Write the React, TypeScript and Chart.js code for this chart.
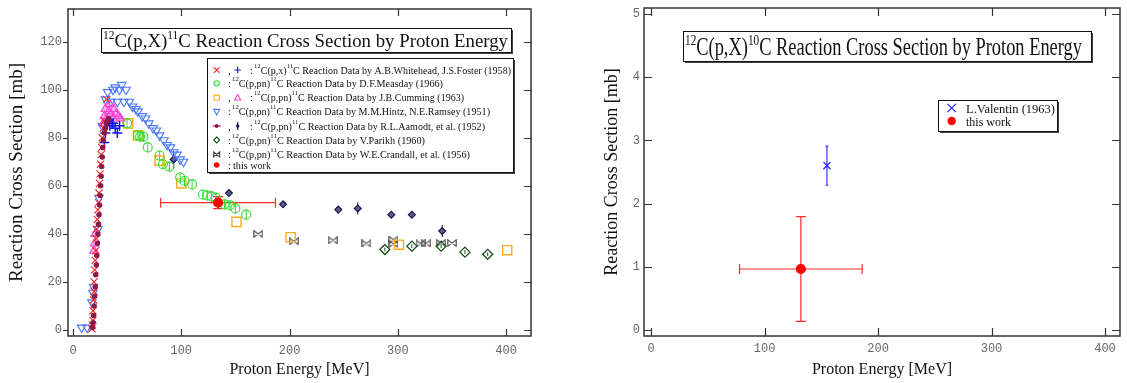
import React, { useEffect, useRef } from "react";
import { Chart, registerables } from "chart.js";

Chart.register(...registerables);

// ===================== LEFT: 12C(p,X)11C =====================
const leftXTicks = [0, 100, 200, 300, 400];
const leftYTicks = [0, 20, 40, 60, 80, 100, 120];

// A.B.Whitehead, J.S.Foster (1958) – red ×
const whiteheadE = [17.5, 18, 18.5, 18.5, 19, 19.5, 19.5, 20, 20.5, 21, 21.5, 22, 22.5, 23, 23.5, 24, 24.5, 25, 25.5, 26, 26.5, 27, 28, 29, 31];
const whiteheadS = [0.5, 2, 4, 8, 12.5, 16, 20, 25, 29, 33, 38, 42, 46, 50, 53, 57, 61, 65, 69, 73, 76, 80, 84, 87, 96];
// A.B.Whitehead, J.S.Foster (1958) – blue +
const fosterE = [29, 30, 32, 34, 36, 37, 39, 41, 43];
const fosterS = [78, 82, 87, 85, 86, 86, 84, 82, 85];
// D.F.Measday (1966) – green circles
const measdayE = [50, 60, 62, 65, 69, 80, 83, 89, 99, 103, 110, 120, 124, 128, 132, 140, 145, 150, 160];
const measdayS = [86, 81, 80.5, 80.5, 76, 72.6, 69, 68, 63.5, 62, 60.6, 56.4, 56, 55.6, 55, 52.3, 51.9, 50.6, 48];
const measdayErr = [2.2, 2.2, 2.2, 2.2, 2.2, 2.2, 2.2, 2.2, 2.2, 2.2, 2.2, 2.2, 2.2, 2.2, 2.2, 2.2, 2.2, 2.2, 2.2];
// J.B.Cumming (1963) – orange squares
const cummingSqE = [51, 60, 80, 100, 151, 201, 301, 401];
const cummingSqS = [86, 81, 70.5, 61, 45, 38.6, 35.5, 33.2];
// J.B.Cumming (1963) – pink triangles
const cummingTriE = [19.5, 20, 20.5, 28, 29, 30, 31, 33, 34, 35, 37, 38, 40, 42, 44];
const cummingTriS = [33, 36, 40, 86, 89, 92, 88, 91, 94, 90, 88, 92, 90, 89, 88];
// M.M.Hintz, N.E.Ramsey (1951) – blue down triangles
const hintzE = [8, 13, 17.5, 18.5, 19, 23, 24, 27, 30, 32, 35, 37, 39, 41, 43, 45, 47, 49, 52, 55, 58, 60, 64, 67, 70, 74, 77, 80, 84, 87, 90, 93, 96, 99, 102];
const hintzS = [1, 1, 11.5, 15.5, 18, 42, 55, 85, 96, 99, 95, 100, 101, 95, 100, 102, 95, 100, 95, 93, 92, 91, 89, 88, 86, 84, 83, 81, 79, 77, 76, 74, 73, 71, 70];
// R.L.Aamodt, et al. (1952) – maroon circles with horizontal bars
const aamodtLoE = [18, 18.5, 19, 19.5, 20, 20.5, 21, 21.5, 22, 22.5, 23, 23.5, 24, 24.5, 25, 25.5, 26, 26.5, 27, 27.5, 28, 29, 30, 31, 32, 33];
const aamodtLoS = [1, 3, 6, 10, 14, 18, 23, 27, 31, 36, 40, 44, 48, 52, 56, 60, 64, 68, 72, 76, 79, 82, 84, 86, 87, 88];
const aamodtLoErrE = [1, 1, 1, 1, 1, 1, 1, 1, 1, 1, 1, 1, 1, 1, 1, 1, 1, 1, 1, 1, 1, 1, 1, 1, 1, 1];
// R.L.Aamodt, et al. (1952) – navy diamonds
const aamodtHiE = [93, 144, 194, 245, 263, 294, 313, 341];
const aamodtHiS = [71, 57, 52.3, 50.1, 50.6, 48, 48, 41.2];
const aamodtHiErr = [3.7, 1.5, 1.2, 1.5, 2.5, 1.5, 1.5, 2.5];
// V.Parikh (1960) – dark green diamonds
const parikhE = [288, 313, 340, 362, 383];
const parikhS = [33.5, 34.9, 34.9, 32.4, 31.5];
const parikhErr = [0.8, 0.8, 0.8, 0.8, 0.8];
// W.E.Crandall, et al. (1956) – bowties
const crandallE = [171, 204, 240, 271, 296, 296, 321, 326, 340, 350];
const crandallS = [40, 36.9, 37.3, 36, 37.6, 35.8, 36, 36, 36.2, 36.2];
// this work (11C)
const work11E = [134];
const work11S = [53];
const work11ErrE = [53];
const work11ErrS = [2.5];

// ===================== RIGHT: 12C(p,X)10C =====================
const rightXTicks = [0, 100, 200, 300, 400];
const rightYTicks = [0, 1, 2, 3, 4, 5];
const valentinE = [155];
const valentinS = [2.6];
const valentinErrS = [0.31];
const work10E = [132];
const work10S = [0.965];
const work10ErrE = [54];
const work10ErrS = [0.83];

// ===================== helpers =====================
const SERIF = "'Liberation Serif', 'Times New Roman', serif";
type Seg = { t: string; sup?: boolean };

function pts(xs: number[], ys: number[]) {
  return xs.map((x, i) => ({ x, y: ys[i] }));
}

function drawRich(ctx: CanvasRenderingContext2D, segs: Seg[], x: number, base: number, o: any) {
  let nat = 0;
  for (const s of segs) {
    ctx.font = `${s.sup ? o.sup : o.size}px ${SERIF}`;
    nat += ctx.measureText(s.t).width;
  }
  const sx = o.width ? o.width / nat : 1;
  ctx.save();
  ctx.translate(x, base);
  ctx.scale(sx, o.sy || 1);
  ctx.fillStyle = o.color || "#111";
  ctx.textBaseline = "alphabetic";
  ctx.textAlign = "left";
  let cx = 0;
  for (const s of segs) {
    ctx.font = `${s.sup ? o.sup : o.size}px ${SERIF}`;
    ctx.fillText(s.t, cx, s.sup ? -o.rise : 0);
    cx += ctx.measureText(s.t).width;
  }
  ctx.restore();
}

function makeBowtie(color: string) {
  const c = document.createElement("canvas");
  c.width = 10;
  c.height = 8;
  const g = c.getContext("2d")!;
  g.strokeStyle = color;
  g.lineWidth = 1.2;
  g.beginPath();
  g.moveTo(0.8, 0.8);
  g.lineTo(0.8, 7.2);
  g.lineTo(9.2, 0.8);
  g.lineTo(9.2, 7.2);
  g.closePath();
  g.stroke();
  return c;
}

function symbol(ctx: CanvasRenderingContext2D, kind: string, x: number, y: number, color: string, s = 1) {
  ctx.save();
  ctx.strokeStyle = color;
  ctx.fillStyle = color;
  ctx.lineWidth = 1.1;
  ctx.beginPath();
  if (kind === "x") {
    const r = 2.8 * s;
    ctx.moveTo(x - r, y - r); ctx.lineTo(x + r, y + r);
    ctx.moveTo(x - r, y + r); ctx.lineTo(x + r, y - r);
    ctx.stroke();
  } else if (kind === "+") {
    const r = 3.2 * s;
    ctx.moveTo(x - r, y); ctx.lineTo(x + r, y);
    ctx.moveTo(x, y - r); ctx.lineTo(x, y + r);
    ctx.stroke();
  } else if (kind === "o") {
    ctx.arc(x, y, 2.6 * s, 0, Math.PI * 2);
    ctx.stroke();
  } else if (kind === "sq") {
    ctx.rect(x - 2.6, y - 2.6, 5.2, 5.2);
    ctx.stroke();
  } else if (kind === "tri") {
    ctx.moveTo(x, y - 3.3); ctx.lineTo(x + 3, y + 2.3); ctx.lineTo(x - 3, y + 2.3); ctx.closePath();
    ctx.stroke();
  } else if (kind === "tridown") {
    ctx.moveTo(x, y + 3.3); ctx.lineTo(x + 3, y - 2.3); ctx.lineTo(x - 3, y - 2.3); ctx.closePath();
    ctx.stroke();
  } else if (kind === "hbar") {
    ctx.moveTo(x - 4, y); ctx.lineTo(x + 4, y); ctx.stroke();
    ctx.beginPath(); ctx.arc(x, y, 1.9, 0, Math.PI * 2); ctx.fill();
  } else if (kind === "dbar") {
    ctx.moveTo(x, y - 4); ctx.lineTo(x, y + 4); ctx.stroke();
    ctx.beginPath(); ctx.moveTo(x, y - 2.8); ctx.lineTo(x + 1.8, y); ctx.lineTo(x, y + 2.8); ctx.lineTo(x - 1.8, y); ctx.closePath(); ctx.fill();
  } else if (kind === "dia") {
    ctx.moveTo(x, y - 3); ctx.lineTo(x + 3, y); ctx.lineTo(x, y + 3); ctx.lineTo(x - 3, y); ctx.closePath();
    ctx.stroke();
  } else if (kind === "bowtie") {
    ctx.moveTo(x - 3, y - 2.5); ctx.lineTo(x - 3, y + 2.5); ctx.lineTo(x + 3, y - 2.5); ctx.lineTo(x + 3, y + 2.5); ctx.closePath();
    ctx.stroke();
  } else if (kind === "dot") {
    ctx.arc(x, y, 2.8 * s, 0, Math.PI * 2);
    ctx.fill();
  }
  ctx.restore();
}

function box(ctx: CanvasRenderingContext2D, x: number, y: number, w: number, h: number) {
  ctx.save();
  ctx.fillStyle = "#fff";
  ctx.fillRect(x, y, w, h);
  ctx.fillStyle = "#444";
  ctx.fillRect(x + 2, y + h, w, 2);
  ctx.fillRect(x + w, y + 2, 2, h);
  ctx.strokeStyle = "#111";
  ctx.lineWidth = 1;
  ctx.strokeRect(x + 0.5, y + 0.5, w, h);
  ctx.restore();
}

const errorBarPlugin = {
  id: "errbars",
  beforeDatasetsDraw(chart: any) {
    const ctx = chart.ctx;
    const xs = chart.scales.x;
    const ys = chart.scales.y;
    const a = chart.chartArea;
    ctx.save();
    ctx.beginPath();
    ctx.rect(a.left, a.top, a.right - a.left, a.bottom - a.top);
    ctx.clip();
    chart.data.datasets.forEach((ds: any) => {
      if (!ds.errX && !ds.errY) return;
      ctx.strokeStyle = ds.errColor || ds.borderColor;
      ctx.lineWidth = ds.errWidth || 1;
      ds.data.forEach((p: any, j: number) => {
        const px = xs.getPixelForValue(p.x);
        const py = ys.getPixelForValue(p.y);
        const cap = ds.errCap || 0;
        ctx.beginPath();
        if (ds.errX && ds.errX[j]) {
          const x1 = xs.getPixelForValue(p.x - ds.errX[j]);
          const x2 = xs.getPixelForValue(p.x + ds.errX[j]);
          ctx.moveTo(x1, py); ctx.lineTo(x2, py);
          if (cap) {
            ctx.moveTo(x1, py - cap); ctx.lineTo(x1, py + cap);
            ctx.moveTo(x2, py - cap); ctx.lineTo(x2, py + cap);
          }
        }
        if (ds.errY && ds.errY[j]) {
          const y1 = ys.getPixelForValue(p.y - ds.errY[j]);
          const y2 = ys.getPixelForValue(p.y + ds.errY[j]);
          ctx.moveTo(px, y1); ctx.lineTo(px, y2);
          if (cap) {
            ctx.moveTo(px - cap, y1); ctx.lineTo(px + cap, y1);
            ctx.moveTo(px - cap, y2); ctx.lineTo(px + cap, y2);
          }
        }
        ctx.stroke();
      });
    });
    ctx.restore();
  },
};

function makeDecor(cfg: any) {
  return {
    id: "decor",
    afterDraw(chart: any) {
      const ctx: CanvasRenderingContext2D = chart.ctx;
      const a = chart.chartArea;
      const xs = chart.scales.x;
      const ys = chart.scales.y;
      ctx.save();
      // frame
      ctx.strokeStyle = "#333";
      ctx.lineWidth = 1.5;
      ctx.strokeRect(a.left, a.top, a.right - a.left, a.bottom - a.top);
      // tick marks
      ctx.lineWidth = 1.2;
      ctx.beginPath();
      xs.ticks.forEach((t: any) => {
        const px = Math.round(xs.getPixelForValue(t.value)) + 0.5;
        ctx.moveTo(px, a.bottom); ctx.lineTo(px, a.bottom - cfg.tick);
        ctx.moveTo(px, a.top); ctx.lineTo(px, a.top + cfg.tick);
      });
      ys.ticks.forEach((t: any) => {
        const py = Math.round(ys.getPixelForValue(t.value)) + 0.5;
        ctx.moveTo(a.left - cfg.leftOut, py); ctx.lineTo(a.left + cfg.leftIn, py);
        ctx.moveTo(a.right, py); ctx.lineTo(a.right - cfg.tick, py);
      });
      ctx.stroke();
      // title box
      const T = cfg.title;
      box(ctx, T.x, T.y, T.w, T.h);
      drawRich(ctx, T.segs, T.tx, T.base, { size: T.size, sup: T.sup, rise: T.rise, width: T.tw, sy: T.sy });
      // legend
      const L = cfg.legend;
      box(ctx, L.x, L.y, L.w, L.h);
      L.rows.forEach((r: any) => {
        r.syms.forEach((s: any, i: number) => symbol(ctx, s[0], L.symX[i], r.y, s[1], L.symScale || 1));
        ctx.fillStyle = "#111";
        ctx.font = `${L.size}px ${SERIF}`;
        ctx.textBaseline = "alphabetic";
        if (L.punct) {
          if (r.syms.length === 2) {
            ctx.fillText(",", L.punct[0], r.y + L.dy);
            ctx.fillText(":", L.punct[1], r.y + L.dy);
          } else {
            ctx.fillText(":", L.punct[0], r.y + L.dy);
          }
        }
        drawRich(ctx, r.segs, r.x0, r.y + L.dy, { size: L.size, sup: L.sup, rise: L.rise, width: r.x1 - r.x0 });
      });
      ctx.restore();
    },
  };
}

function axis(min: number, max: number, tickVals: number[], o: any) {
  return {
    type: "linear",
    min,
    max,
    afterBuildTicks: (s: any) => {
      s.ticks = tickVals.map((v) => ({ value: v }));
    },
    afterFit: (s: any) => {
      if (o.horizontal) s.height = o.size;
      else s.width = o.size;
      s.paddingTop = 0;
      s.paddingBottom = 0;
      s.paddingLeft = 0;
      s.paddingRight = 0;
    },
    grid: { display: false, drawTicks: false },
    border: { display: false },
    ticks: {
      font: { family: "'Liberation Mono', monospace", size: 12 },
      color: "#666",
      padding: o.tickPad,
      maxRotation: 0,
      autoSkip: false,
    },
    title: {
      display: true,
      text: o.title,
      font: { family: SERIF, size: o.titleSize },
      color: "#111",
      padding: o.titlePad,
    },
  };
}

function leftConfig(bow: HTMLCanvasElement): any {
  const base = { showLine: false, borderWidth: 1.1, backgroundColor: "rgba(0,0,0,0)" };
  const seg = (s: string): Seg[] => [
    { t: "12", sup: true },
    { t: s.startsWith("x") ? "C(p,x)" : "C(p,pn)" },
    { t: "11", sup: true },
    { t: "C Reaction Data by " + s.replace(/^x /, "") },
  ];
  return {
    type: "scatter",
    data: {
      datasets: [
        { ...base, label: "this work", data: pts(work11E, work11S), pointStyle: "circle", pointRadius: 4.5, backgroundColor: "#ff0000", borderColor: "#ff0000", errX: work11ErrE, errY: work11ErrS, errCap: 5, errColor: "#ff2a2a", errWidth: 1.2, order: 0 },
        { ...base, label: "Aamodt lo", data: pts(aamodtLoE, aamodtLoS), pointStyle: "circle", pointRadius: 2.2, backgroundColor: "#8b1a4a", borderColor: "#8b1a4a", errX: aamodtLoErrE, order: 1 },
        { ...base, label: "Whitehead", data: pts(whiteheadE, whiteheadS), pointStyle: "crossRot", pointRadius: 5, borderColor: "#ff2020", order: 2 },
        { ...base, label: "Foster", data: pts(fosterE, fosterS), pointStyle: "cross", pointRadius: 5, borderColor: "#1010ee", borderWidth: 1.5, order: 3 },
        { ...base, label: "Cumming tri", data: pts(cummingTriE, cummingTriS), pointStyle: "triangle", pointRadius: 5, borderColor: "#ff40d8", backgroundColor: "rgba(255,64,216,0.35)", order: 4 },
        { ...base, label: "Hintz", data: pts(hintzE, hintzS), pointStyle: "triangle", rotation: 180, pointRadius: 5, borderColor: "#4a78ff", order: 5 },
        { ...base, label: "Measday", data: pts(measdayE, measdayS), pointStyle: "circle", pointRadius: 4.5, borderColor: "#2ee02e", errY: measdayErr, order: 6 },
        { ...base, label: "Cumming sq", data: pts(cummingSqE, cummingSqS), pointStyle: "rect", pointRadius: 6.5, borderColor: "#ffaa1a", borderWidth: 1.4, order: 7 },
        { ...base, label: "Aamodt hi", data: pts(aamodtHiE, aamodtHiS), pointStyle: "rectRot", pointRadius: 3.5, backgroundColor: "#5a5a86", borderColor: "#15154a", errY: aamodtHiErr, errColor: "#15154a", order: 8 },
        { ...base, label: "Parikh", data: pts(parikhE, parikhS), pointStyle: "rectRot", pointRadius: 5, borderColor: "#1a501a", borderWidth: 1.3, errY: parikhErr, order: 9 },
        { ...base, label: "Crandall", data: pts(crandallE, crandallS), pointStyle: bow, pointRadius: 5, borderColor: "#555", order: 10 },
      ],
    },
    options: {
      responsive: false,
      animation: false,
      devicePixelRatio: 1,
      layout: { padding: { left: 0, right: 29, top: 9, bottom: 0 } },
      plugins: { legend: { display: false }, tooltip: { enabled: false } },
      scales: {
        x: axis(-4.6, 423, leftXTicks, { horizontal: true, size: 47, tickPad: 8, title: "Proton Energy [MeV]", titleSize: 16, titlePad: { top: 0, bottom: 3.4 } }),
        y: axis(-2.5, 133.6, leftYTicks, { horizontal: false, size: 68, tickPad: 6, title: "Reaction Cross Section [mb]", titleSize: 19, titlePad: { top: 5.6, bottom: 0 } }),
      },
    },
    plugins: [
      errorBarPlugin,
      makeDecor({
        tick: 7,
        leftOut: 5,
        leftIn: 0,
        title: {
          x: 101, y: 28, w: 410, h: 24, tx: 103, tw: 405, base: 47, size: 18, sup: 11, rise: 7, sy: 1.08,
          segs: [{ t: "12", sup: true }, { t: "C(p,X)" }, { t: "11", sup: true }, { t: "C Reaction Cross Section by Proton Energy" }],
        },
        legend: {
          x: 207, y: 58, w: 306, h: 114, size: 10.5, sup: 7, rise: 6, dy: 3.5,
          symX: [216.7, 237.7], punct: [228, 250],
          rows: [
            { syms: [["x", "#ff2020"], ["+", "#1010ee"]], y: 70, x0: 254, x1: 511, segs: seg("x A.B.Whitehead, J.S.Foster (1958)") },
            { syms: [["o", "#2ee02e"]], y: 83.3, x0: 232, x1: 443, segs: seg("D.F.Measday (1966)") },
            { syms: [["sq", "#ffaa1a"], ["tri", "#ff40d8"]], y: 97.7, x0: 254, x1: 464, segs: seg("J.B.Cumming (1963)") },
            { syms: [["tridown", "#4a78ff"]], y: 111.7, x0: 232, x1: 490, segs: seg("M.M.Hintz, N.E.Ramsey (1951)") },
            { syms: [["hbar", "#8b1a4a"], ["dbar", "#15154a"]], y: 126, x0: 254, x1: 485, segs: seg("R.L.Aamodt, et al. (1952)") },
            { syms: [["dia", "#1a501a"]], y: 140, x0: 232, x1: 425, segs: seg("V.Parikh (1960)") },
            { syms: [["bowtie", "#444"]], y: 154.3, x0: 232, x1: 470, segs: seg("W.E.Crandall, et al. (1956)") },
            { syms: [["dot", "#ff0000"]], y: 165, x0: 233, x1: 271, segs: [{ t: "this work" }] },
          ],
        },
      }),
    ],
  };
}

function rightConfig(): any {
  const base = { showLine: false, borderWidth: 1.2, backgroundColor: "rgba(0,0,0,0)" };
  return {
    type: "scatter",
    data: {
      datasets: [
        { ...base, label: "this work", data: pts(work10E, work10S), pointStyle: "circle", pointRadius: 4.5, backgroundColor: "#ff0000", borderColor: "#ff0000", errX: work10ErrE, errY: work10ErrS, errCap: 5, errColor: "#ff2a2a", errWidth: 1.2, order: 0 },
        { ...base, label: "L.Valentin (1963)", data: pts(valentinE, valentinS), pointStyle: "crossRot", pointRadius: 5, borderColor: "#1a1aff", errY: valentinErrS, errCap: 1.5, errColor: "#3a3aff", errWidth: 1.2, order: 1 },
      ],
    },
    options: {
      responsive: false,
      animation: false,
      devicePixelRatio: 1,
      layout: { padding: { left: 0, right: 7, top: 8, bottom: 0 } },
      plugins: { legend: { display: false }, tooltip: { enabled: false } },
      scales: {
        x: axis(-6.2, 413.2, rightXTicks, { horizontal: true, size: 47, tickPad: 6, title: "Proton Energy [MeV]", titleSize: 16, titlePad: { top: 0, bottom: 3.4 } }),
        y: axis(-0.095, 5.095, rightYTicks, { horizontal: false, size: 84, tickPad: 4, title: "Reaction Cross Section [mb]", titleSize: 18, titlePad: { top: 41, bottom: 0 } }),
      },
    },
    plugins: [
      errorBarPlugin,
      makeDecor({
        tick: 8,
        leftOut: 0,
        leftIn: 8,
        title: {
          x: 123, y: 31, w: 408, h: 30, tx: 125, tw: 397, base: 55, size: 18, sup: 11, rise: 7, sy: 1.4,
          segs: [{ t: "12", sup: true }, { t: "C(p,X)" }, { t: "10", sup: true }, { t: "C Reaction Cross Section by Proton Energy" }],
        },
        legend: {
          x: 378, y: 100, w: 119, h: 31, size: 12, sup: 8, rise: 5, dy: 4.5,
          symX: [391.7], symScale: 1.5,
          rows: [
            { syms: [["x", "#1a1aff"]], y: 108, x0: 406, x1: 495, segs: [{ t: "L.Valentin (1963)" }] },
            { syms: [["dot", "#ff0000"]], y: 121, x0: 406, x1: 451, segs: [{ t: "this work" }] },
          ],
        },
      }),
    ],
  };
}

export default function App() {
  const leftRef = useRef<HTMLCanvasElement>(null);
  const rightRef = useRef<HTMLCanvasElement>(null);
  useEffect(() => {
    const bow = makeBowtie("#555");
    const c1 = new Chart(leftRef.current as HTMLCanvasElement, leftConfig(bow));
    const c2 = new Chart(rightRef.current as HTMLCanvasElement, rightConfig());
    return () => {
      c1.destroy();
      c2.destroy();
    };
  }, []);
  return (
    <div style={{ position: "fixed", left: 0, top: 0, width: 1127, height: 383, background: "#fff" }}>
      <canvas ref={leftRef} width={560} height={383} style={{ position: "absolute", left: 0, top: 0, width: 560, height: 383 }} />
      <canvas ref={rightRef} width={567} height={383} style={{ position: "absolute", left: 560, top: 0, width: 567, height: 383 }} />
    </div>
  );
}
